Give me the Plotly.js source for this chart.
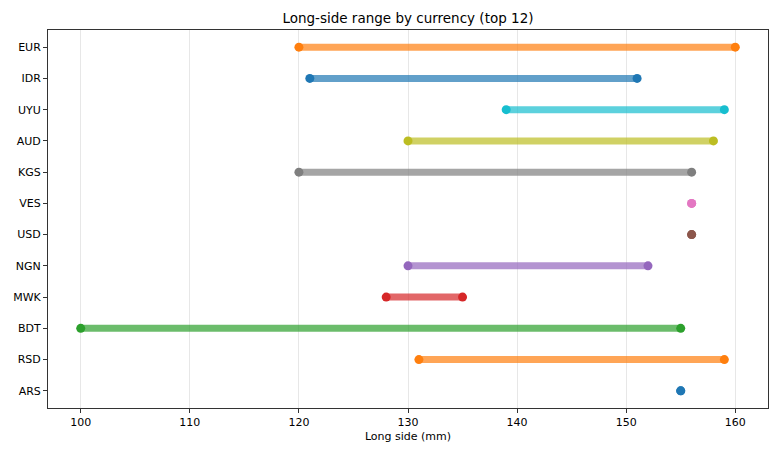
<!DOCTYPE html>
<html>
<head>
<meta charset="utf-8">
<script src="https://cdn.plot.ly/plotly-3.0.1.min.js"></script>
<style>html,body{margin:0;padding:0;background:#fff;}#chart{width:780px;height:455px;}</style>
</head>
<body>
<div id="chart"></div>
<script>
// Data (bottom to top)
const currencies = ["ARS","RSD","BDT","MWK","NGN","USD","VES","KGS","AUD","UYU","IDR","EUR"];
const minVals   = [155, 131, 100, 128, 130, 156, 156, 120, 130, 139, 121, 120];
const maxVals   = [155, 159, 155, 135, 152, 156, 156, 156, 158, 159, 151, 160];
const xTicks = [100, 110, 120, 130, 140, 150, 160];

const palette = ["#1f77b4","#ff7f0e","#2ca02c","#d62728","#9467bd","#8c564b","#e377c2","#7f7f7f","#bcbd22","#17becf"];
function rgba(hex, a){
  const r=parseInt(hex.slice(1,3),16), g=parseInt(hex.slice(3,5),16), b=parseInt(hex.slice(5,7),16);
  return `rgba(${r},${g},${b},${a})`;
}

const traces = [];
currencies.forEach((c, i) => {
  const col = palette[i % palette.length];
  traces.push({
    x: [minVals[i], maxVals[i]], y: [i, i], mode: 'lines', type: 'scatter',
    line: {color: rgba(col, 0.7), width: 7}, hoverinfo: 'skip', showlegend: false
  });
  traces.push({
    x: [minVals[i], maxVals[i]], y: [i, i], mode: 'markers', type: 'scatter',
    marker: {color: col, size: 9}, name: c, showlegend: false
  });
});

const fam = 'DejaVu Sans, sans-serif';
const layout = {
  width: 780, height: 455,
  margin: {l: 48, r: 12, t: 30, b: 47},
  paper_bgcolor: '#fff', plot_bgcolor: '#fff',
  font: {family: fam, size: 11, color: '#000'},
  title: {text: 'Long-side range by currency (top 12)', font: {family: fam, size: 13.5, color: '#000'}, x: 0.523, xanchor: 'center', y: 0.96, yanchor: 'middle'},
  xaxis: {
    range: [97, 163], tickvals: xTicks, ticktext: xTicks.map(String),
    tickfont: {family: fam, size: 11, color: '#000'},
    showgrid: true, gridcolor: 'rgba(176,176,176,0.3)', gridwidth: 1,
    zeroline: false, showline: true, linecolor: '#333', linewidth: 1, mirror: true,
    ticks: 'outside', ticklen: 4, tickcolor: '#333',
    title: {text: 'Long side (mm)', font: {family: fam, size: 11, color: '#000'}, standoff: 4}
  },
  yaxis: {
    range: [-0.55, 11.55], tickvals: currencies.map((_, i) => i), ticktext: currencies,
    tickfont: {family: fam, size: 11, color: '#000'},
    showgrid: false, zeroline: false, showline: true, linecolor: '#333', linewidth: 1, mirror: true,
    ticks: 'outside', ticklen: 4, tickcolor: '#333'
  }
};
Plotly.newPlot('chart', traces, layout, {displayModeBar: false, staticPlot: true});
</script>
</body>
</html>
